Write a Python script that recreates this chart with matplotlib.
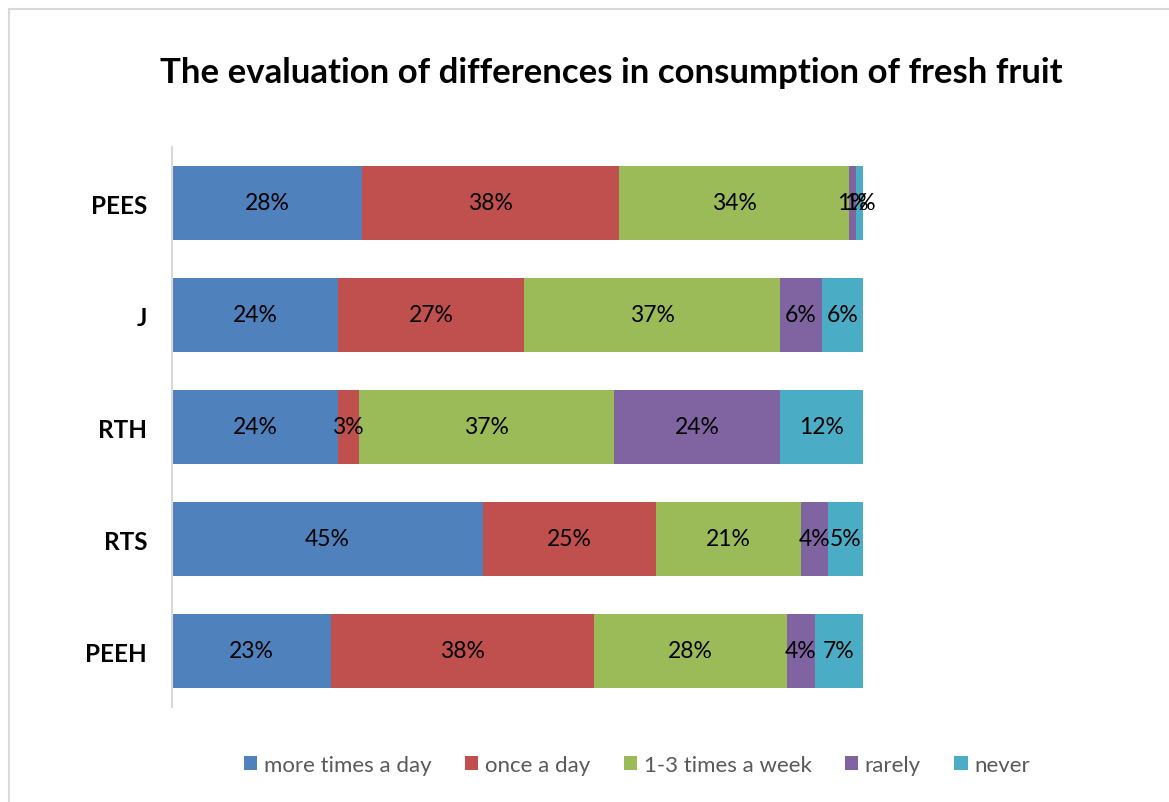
import matplotlib
matplotlib.use("Agg")
import matplotlib.pyplot as plt
import numpy as np
from matplotlib.patches import Rectangle

# data (percent labels as shown; bars are 100%-stacked, so each row is normalised)
groups = ["PEES", "J", "RTH", "RTS", "PEEH"]
series = ["more times a day", "once a day", "1-3 times a week", "rarely", "never"]
more_times_a_day = [28, 24, 24, 45, 23]
once_a_day = [38, 27, 3, 25, 38]
times_a_week = [34, 37, 37, 21, 28]
rarely = [1, 6, 24, 4, 4]
never = [1, 6, 12, 5, 7]
colors = ["#4F81BD", "#C0504D", "#9BBB59", "#8064A2", "#4BACC6"]

plt.rcParams['font.family'] = ['Lato', 'DejaVu Sans']

vals = np.array([more_times_a_day, once_a_day, times_a_week, rarely, never], dtype=float)
frac = vals / vals.sum(axis=0)

W, H = 1169, 803
fig = plt.figure(figsize=(W / 100, H / 100), dpi=100)
# chart border (only top/left visible)
fig.patches.append(Rectangle((9 / W, -0.1), 1.2, 1 - 10 / H + 0.1, transform=fig.transFigure,
                             fill=False, edgecolor="#D9D9D9", linewidth=1.5))

ax = fig.add_axes([172 / W, 1 - 708 / H, (863 - 172) / W, 560 / H])
y = np.arange(len(groups))
left = np.zeros(len(groups))
for i, name in enumerate(series):
    ax.barh(y, frac[i], left=left, height=0.66, color=colors[i], label=name, linewidth=0)
    for j in range(len(groups)):
        ax.text(left[j] + frac[i][j] / 2, y[j], f"{int(vals[i][j])}%", ha="center", va="center",
                fontsize=16.5, color="black")
    left += frac[i]

ax.set_xlim(0, 1)
ax.set_ylim(len(groups) - 0.5, -0.5)
ax.set_yticks(y)
ax.set_yticklabels(groups, fontsize=17.5, fontweight="bold")
ax.tick_params(axis="y", length=0, pad=18)
ax.set_xticks([])
for s in ["top", "right", "bottom"]:
    ax.spines[s].set_visible(False)
ax.spines["left"].set_color("#D9D9D9")
ax.spines["left"].set_linewidth(1.5)

fig.text(611 / W, 1 - 73 / H, "The evaluation of differences in consumption of fresh fruit",
         ha="center", va="center", fontsize=25, fontweight="bold")

leg = fig.legend(loc="center", bbox_to_anchor=(637 / W, 1 - 766 / H), ncol=5, frameon=False,
                 fontsize=16, handlelength=0.6, handleheight=0.6, handletextpad=0.3, columnspacing=1.5)
for t in leg.get_texts():
    t.set_color("#595959")

fig.savefig("out.png", dpi=100)
